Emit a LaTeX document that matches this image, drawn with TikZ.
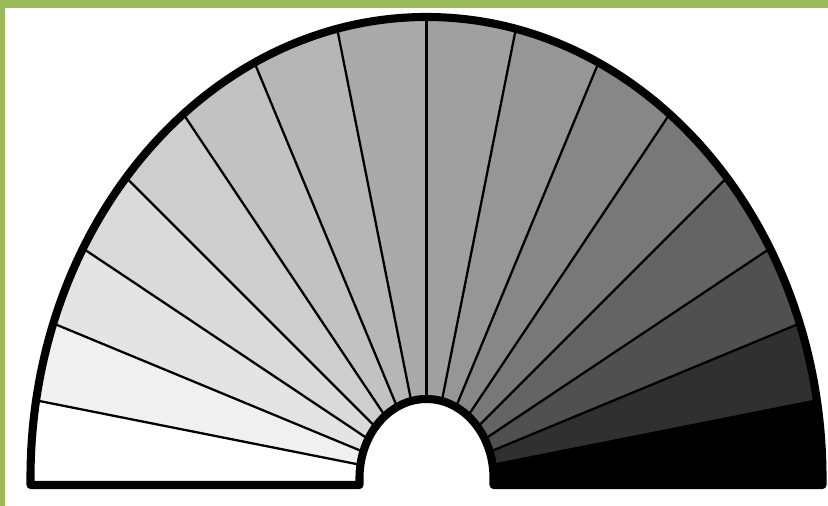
\documentclass[tikz,border=0pt]{standalone}
\usepackage{xcolor}
\usepackage{tikz}
\definecolor{slidegreen}{RGB}{155,187,89}
\tikzset{
  rim/.style={draw=black, line width=2.3pt, line join=round},
  spoke/.style={draw=black, line width=0.65pt},
}
% fan geometry, in cm
\def\fanx{4.265}\def\fany{0.28}\def\fanlow{-0.07}
\def\outa{3.96}\def\outb{4.61}
\def\ina{0.67}\def\inb{0.79}

\begin{document}
\begin{tikzpicture}
  \useasboundingbox (0,0) rectangle (8.28,5.06);
  \fill[slidegreen] (0,0) rectangle (8.28,5.06);
  \fill[white] (0.05,0) rectangle (8.28,4.98);
  \begin{scope}[shift={(\fanx,\fany)}]
    % sectors, white to black
    \foreach \k/\g in {0/255,1/240,2/228,3/218,4/206,5/194,6/182,7/170,
                       8/160,9/150,10/135,11/120,12/100,13/80,14/48,15/0} {
      \pgfmathsetmacro{\pa}{180-11.25*\k}
      \pgfmathsetmacro{\pb}{\pa-11.25}
      \pgfmathsetmacro{\toa}{abs(atan2(\outa*sin(\pa),\outb*cos(\pa)))}
      \pgfmathsetmacro{\tob}{abs(atan2(\outa*sin(\pb),\outb*cos(\pb)))}
      \pgfmathsetmacro{\tia}{abs(atan2(\ina*sin(\pa),\inb*cos(\pa)))}
      \pgfmathsetmacro{\tib}{abs(atan2(\ina*sin(\pb),\inb*cos(\pb)))}
      \definecolor{fanshade}{RGB}{\g,\g,\g}
      \fill[fanshade] (\tia:\ina cm and \inb cm) -- (\toa:\outa cm and \outb cm)
        arc[start angle=\toa, end angle=\tob, x radius=\outa cm, y radius=\outb cm]
        -- (\tib:\ina cm and \inb cm)
        arc[start angle=\tib, end angle=\tia, x radius=\ina cm, y radius=\inb cm]
        -- cycle;
    }
    \fill[white] (-\outa,\fanlow) rectangle (-\ina,0);
    \fill[black] (\ina,\fanlow) rectangle (\outa,0);
    % spokes
    \foreach \j in {1,...,15} {
      \pgfmathsetmacro{\pa}{180-11.25*\j}
      \pgfmathsetmacro{\toa}{abs(atan2(\outa*sin(\pa),\outb*cos(\pa)))}
      \pgfmathsetmacro{\tia}{abs(atan2(\ina*sin(\pa),\inb*cos(\pa)))}
      \draw[spoke] (\tia:\ina cm and \inb cm) -- (\toa:\outa cm and \outb cm);
    }
    % outline
    \draw[rim] (-\ina,\fanlow) -- (-\ina,0)
      arc[start angle=180, end angle=0, x radius=\ina cm, y radius=\inb cm]
      -- (\ina,\fanlow) -- (\outa,\fanlow) -- (\outa,0)
      arc[start angle=0, end angle=180, x radius=\outa cm, y radius=\outb cm]
      -- (-\outa,\fanlow) -- cycle;
  \end{scope}
\end{tikzpicture}
\end{document}
